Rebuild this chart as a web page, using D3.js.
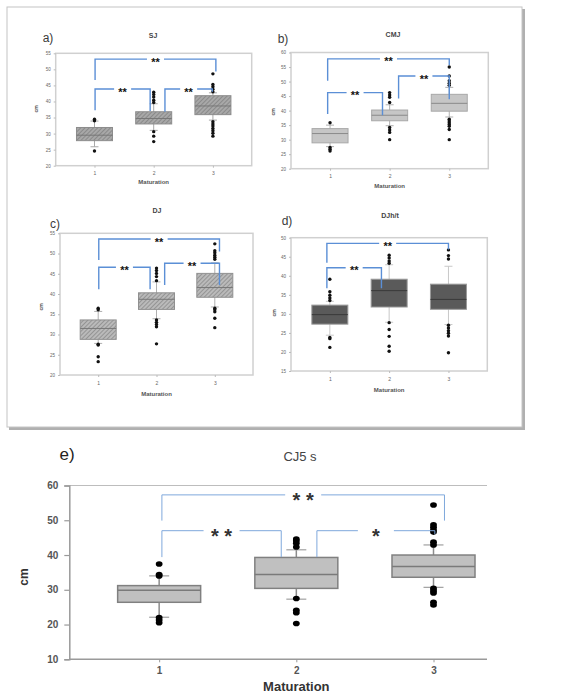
<!DOCTYPE html>
<html lang="en">
  <head>
    <meta charset="utf-8">
    <title>Maturation box plots</title>
    <style>
      body { margin: 0; background: #fff; }
      text { font-family: "Liberation Sans", Arial, sans-serif; }
    </style>
  </head>
  <body>
<script src="https://cdn.jsdelivr.net/npm/d3@7/dist/d3.min.js"></script>
<script>
// maturation groups
var groups = [1, 2, 3];

// each box: [lower whisker, q1, median, q3, upper whisker]
// a) SJ
var sjBox = [[25.9, 27.8, 29.5, 31.9, 33.9], [31.0, 33.0, 34.7, 36.8, 39.3], [34.2, 35.9, 38.6, 41.8, 42.7]];
var sjOut = [[34.5, 34.0, 24.6], [42.9, 42.2, 41.4, 40.4, 39.7, 30.6, 29.2, 27.5],
  [48.6, 45.3, 44.6, 43.8, 43.0, 33.7, 33.0, 32.4, 31.6, 30.9, 30.1, 29.2]];
// b) CMJ
var cmjBox = [[27.6, 28.9, 32.1, 33.8, 35.0], [34.8, 36.5, 38.4, 40.2, 42.0], [37.8, 39.8, 42.5, 45.6, 48.0]];
var cmjOut = [[35.8, 27.3, 26.7, 26.1], [46.2, 45.4, 44.6, 42.8, 34.2, 33.3, 32.5, 30.0],
  [55.0, 51.9, 50.3, 49.4, 48.7, 37.0, 36.4, 35.8, 35.2, 34.6, 33.5, 30.0]];
// c) DJ
var djBox = [[27.8, 28.8, 31.5, 33.6, 35.7], [33.9, 36.2, 38.7, 40.3, 43.0], [36.8, 39.2, 41.6, 45.1, 47.7]];
var djOut = [[36.5, 36.1, 27.6, 27.4, 24.5, 23.3], [46.4, 45.8, 45.1, 44.3, 43.3, 33.6, 33.0, 32.5, 31.9, 27.7],
  [52.4, 50.7, 50.2, 49.6, 49.1, 48.6, 36.5, 36.1, 35.6, 34.0, 31.7]];
// d) DJh/t
var djhtBox = [[24.4, 27.3, 29.8, 32.3, 33.3], [27.8, 31.8, 36.1, 39.1, 42.9], [27.2, 31.2, 33.8, 37.8, 42.5]];
var djhtOut = [[39.1, 35.8, 34.9, 34.2, 33.5, 23.8, 23.5, 21.2], [45.4, 44.7, 43.9, 43.3, 27.7, 25.9, 24.1, 21.5, 20.2],
  [46.8, 45.3, 44.4, 27.0, 26.3, 25.6, 24.9, 24.2, 19.8]];
// e) CJ5 s
var cjBox = [[22.1, 26.4, 29.9, 31.2, 34.0], [27.3, 30.4, 34.4, 39.3, 41.5], [30.7, 33.6, 36.7, 40.0, 42.9]];
var cjOut = [[37.4, 34.4, 34.0, 22.0, 21.3, 20.5], [44.6, 44.1, 43.4, 42.3, 27.5, 24.1, 23.4, 20.3],
  [54.4, 48.7, 48.0, 47.2, 46.6, 43.7, 42.9, 30.4, 29.7, 29.1, 26.4, 25.6]];

// significance brackets: [from group, to group, bar level, left leg end, right leg end, label]
var sjSig = [[1.01, 3.05, 53.2, 46.7, 49.3, "**"], [1.01, 1.94, 43.9, 37.3, 37.0, "**"], [2.19, 2.99, 43.9, 36.8, 43.0, "**"]];
var cmjSig = [[0.96, 3.0, 57.8, 50.3, 55.7, "**"], [0.96, 1.88, 46.2, 38.8, 38.4, "**"], [2.15, 3.0, 51.9, 44.2, 43.9, "**"]];
var djSig = [[1.01, 3.08, 53.6, 48.4, 50.5, "**"], [1.01, 1.89, 46.6, 41.2, 41.2, "**"], [2.14, 3.08, 47.6, 42.2, 42.2, "**"]];
var djhtSig = [[0.95, 3.0, 48.5, 43.4, 46.9, "**"], [0.95, 1.87, 42.1, 36.7, 36.7, "**"]];
var cjSig = [[1.02, 3.08, 57.3, 49.9, 49.9, "* *"], [1.02, 1.89, 47.0, 39.4, 39.4, "* *"], [2.15, 3.01, 47.0, 39.4, 46.0, "*"]];

var svg = d3.select("body").append("svg")
  .attr("width", 567)
  .attr("height", 700);

var defs = svg.append("defs");

// hatch fills for a) and c)
function hatch(id, base, line) {
  var p = defs.append("pattern")
    .attr("id", id)
    .attr("patternUnits", "userSpaceOnUse")
    .attr("width", 3).attr("height", 3)
    .attr("patternTransform", "rotate(45)");
  p.append("rect").attr("width", 3).attr("height", 3).attr("fill", base);
  p.append("line").attr("x1", 0.5).attr("y1", 0).attr("x2", 0.5).attr("y2", 3)
    .attr("stroke", line).attr("stroke-width", 1);
}
hatch("hatchA", "#a8a8a8", "#8a8a8a");
hatch("hatchC", "#bababa", "#949494");

defs.append("clipPath").attr("id", "cutTop")
  .append("rect").attr("x", 360).attr("y", 31).attr("width", 70).attr("height", 10);

// outer frame around a-d with a small shadow
svg.append("rect").attr("x", 9).attr("y", 9).attr("width", 516).attr("height", 421).attr("fill", "#b0b0b0");
svg.append("rect").attr("x", 7).attr("y", 7).attr("width", 515).attr("height", 420)
  .attr("fill", "#fff").attr("stroke", "#c4c4c4").attr("stroke-width", 1);

function smallPanel(o) {
  var x = d3.scaleLinear().domain([0.345, 3.655]).range([o.left, o.right]);
  var y = d3.scaleLinear().domain(o.yDom).range([o.bottom, o.top]);
  var g = svg.append("g");

  g.append("rect")
    .attr("x", o.left).attr("y", o.top)
    .attr("width", o.right - o.left).attr("height", o.bottom - o.top)
    .attr("fill", "#fff").attr("stroke", "#d0d0d0").attr("stroke-width", 1.5);

  // y axis
  var ya = g.append("g")
    .attr("transform", "translate(" + o.left + ",0)")
    .call(d3.axisLeft(y).tickValues(d3.range(o.yDom[0], o.yDom[1] + 1, 5)).tickSize(2).tickPadding(3));
  ya.select(".domain").remove();
  ya.selectAll("line").attr("stroke", "#bbb");
  ya.selectAll("text").attr("font-size", 4.5).attr("fill", "#666");

  // x axis
  var xa = g.append("g")
    .attr("transform", "translate(0," + o.bottom + ")")
    .call(d3.axisBottom(x).tickValues(groups).tickFormat(d3.format("d")).tickSize(2).tickPadding(4));
  xa.select(".domain").remove();
  xa.selectAll("line").attr("stroke", "#bbb");
  xa.selectAll("text").attr("font-size", 5).attr("fill", "#666");

  g.append("text").attr("x", x(2)).attr("y", o.xLabY)
    .attr("text-anchor", "middle").attr("font-size", 6).attr("font-weight", "bold").attr("fill", "#555")
    .text("Maturation");
  g.append("text").attr("transform", "translate(" + o.cmX + "," + o.cmY + ") rotate(-90)")
    .attr("text-anchor", "middle").attr("dy", "0.35em")
    .attr("font-size", 5).attr("font-weight", "bold").attr("fill", "#555")
    .text("cm");

  var t = g.append("text").attr("x", o.titleX).attr("y", o.titleY)
    .attr("text-anchor", "middle").attr("font-size", 7).attr("font-weight", "bold").attr("fill", "#444")
    .text(o.title);
  if (o.clip) t.attr("clip-path", "url(#cutTop)");

  g.append("text").attr("x", o.letterX).attr("y", o.letterY)
    .attr("text-anchor", "middle").attr("dy", "0.35em")
    .attr("font-size", 12).attr("fill", "#3a3a3a")
    .text(o.letter);

  var bw = 36, cap = 8;
  o.box.forEach(function (b, i) {
    var cx = x(groups[i]);
    g.append("line").attr("x1", cx).attr("x2", cx).attr("y1", y(b[0])).attr("y2", y(b[4]))
      .attr("stroke", o.whisker).attr("stroke-width", 1);
    [b[0], b[4]].forEach(function (v) {
      g.append("line").attr("x1", cx - cap / 2).attr("x2", cx + cap / 2).attr("y1", y(v)).attr("y2", y(v))
        .attr("stroke", o.whisker).attr("stroke-width", 1);
    });
    g.append("rect").attr("x", cx - bw / 2).attr("y", y(b[3]))
      .attr("width", bw).attr("height", y(b[1]) - y(b[3]))
      .attr("fill", o.fill).attr("stroke", o.stroke).attr("stroke-width", 1);
    g.append("line").attr("x1", cx - bw / 2).attr("x2", cx + bw / 2).attr("y1", y(b[2])).attr("y2", y(b[2]))
      .attr("stroke", o.median).attr("stroke-width", 1);
    g.selectAll(null).data(o.out[i]).enter().append("circle")
      .attr("cx", cx).attr("cy", function (d) { return y(d); })
      .attr("r", 1.7).attr("fill", "#111");
  });

  brackets(g, x, y, o.sig, 17, "#5b8fd6", 1.4, 11, "#111");
}

function brackets(g, x, y, sig, gap, col, sw, fs, starCol) {
  sig.forEach(function (s) {
    var x0 = x(s[0]), x1 = x(s[1]), yy = y(s[2]), mid = (x0 + x1) / 2;
    g.append("path")
      .attr("d", "M" + x0 + "," + y(s[3]) + "V" + yy + "H" + (mid - gap / 2))
      .attr("fill", "none").attr("stroke", col).attr("stroke-width", sw);
    g.append("path")
      .attr("d", "M" + (mid + gap / 2) + "," + yy + "H" + x1 + "V" + y(s[4]))
      .attr("fill", "none").attr("stroke", col).attr("stroke-width", sw);
    g.append("text").attr("x", mid).attr("y", yy + fs * 0.6)
      .attr("text-anchor", "middle").attr("font-family", "DejaVu Sans")
      .attr("font-weight", "bold").attr("font-size", fs).attr("fill", starCol)
      .text(s[5]);
  });
}

smallPanel({ box: sjBox, out: sjOut, sig: sjSig, left: 55.7, right: 251.7, top: 53.3, bottom: 165.7, yDom: [20, 55],
  fill: "url(#hatchA)", stroke: "#8c8c8c", median: "#777", whisker: "#a8a8a8",
  title: "SJ", titleX: 153, titleY: 38, letter: "a)", letterX: 48, letterY: 38,
  xLabY: 184, cmX: 36.5, cmY: 109 });
smallPanel({ box: cmjBox, out: cmjOut, sig: cmjSig, left: 291, right: 488.3, top: 52.5, bottom: 168.7, yDom: [20, 60],
  fill: "#c6c6c6", stroke: "#a8a8a8", median: "#8a8a8a", whisker: "#b0b0b0",
  title: "CMJ", titleX: 393, titleY: 37, clip: true, letter: "b)", letterX: 283, letterY: 39,
  xLabY: 188, cmX: 273, cmY: 112 });
smallPanel({ box: djBox, out: djOut, sig: djSig, left: 60, right: 253, top: 233.3, bottom: 375, yDom: [20, 55],
  fill: "url(#hatchC)", stroke: "#909090", median: "#777", whisker: "#b0b0b0",
  title: "DJ", titleX: 157, titleY: 213, letter: "c)", letterX: 55, letterY: 224,
  xLabY: 396, cmX: 41, cmY: 307 });
smallPanel({ box: djhtBox, out: djhtOut, sig: djhtSig, left: 291, right: 487.3, top: 237.7, bottom: 371, yDom: [15, 50],
  fill: "#5a5a5a", stroke: "#9a9a9a", median: "#3a3a3a", whisker: "#c8c8c8",
  title: "DJh/t", titleX: 390, titleY: 218, letter: "d)", letterX: 287, letterY: 221,
  xLabY: 392, cmX: 274, cmY: 313 });

// e) larger chart
var ex = d3.scaleLinear().domain([0.345, 3.39]).range([69.3, 487]);
var ey = d3.scaleLinear().domain([10, 60]).range([659.3, 485.5]);
var eg = svg.append("g");

eg.append("line").attr("x1", 69.3).attr("x2", 487).attr("y1", ey(60)).attr("y2", ey(60))
  .attr("stroke", "#bdbdbd").attr("stroke-width", 1);

var eya = eg.append("g")
  .attr("transform", "translate(69.3,0)")
  .call(d3.axisLeft(ey).tickValues(d3.range(10, 61, 10)).tickSize(5).tickPadding(6));
eya.select(".domain").attr("stroke", "#9a9a9a").attr("stroke-width", 1.5);
eya.selectAll("line").attr("stroke", "#9a9a9a").attr("stroke-width", 1.2);
eya.selectAll("text").attr("font-size", 10).attr("font-weight", "bold").attr("fill", "#555");

var exa = eg.append("g")
  .attr("transform", "translate(0,659.3)")
  .call(d3.axisBottom(ex).tickValues(groups).tickFormat(d3.format("d")).tickSize(3).tickPadding(5));
exa.select(".domain").attr("stroke", "#9a9a9a").attr("stroke-width", 1.5).attr("d", "M69.3,0H487");
exa.selectAll("line").attr("stroke", "#9a9a9a");
exa.selectAll("text").attr("font-size", 10).attr("font-weight", "bold").attr("fill", "#555");

eg.append("text").attr("x", ex(2)).attr("y", 691)
  .attr("text-anchor", "middle").attr("font-size", 13).attr("font-weight", "bold").attr("fill", "#333")
  .text("Maturation");
eg.append("text").attr("transform", "translate(24,577) rotate(-90)")
  .attr("text-anchor", "middle").attr("dy", "0.35em")
  .attr("font-size", 12).attr("font-weight", "bold").attr("fill", "#333")
  .text("cm");
eg.append("text").attr("x", 300).attr("y", 461)
  .attr("text-anchor", "middle").attr("font-size", 13).attr("fill", "#444")
  .text("CJ5 s");
eg.append("text").attr("x", 67).attr("y", 454)
  .attr("text-anchor", "middle").attr("dy", "0.35em")
  .attr("font-size", 17).attr("fill", "#222")
  .text("e)");

cjBox.forEach(function (b, i) {
  var cx = ex(groups[i]), bw = 83, cap = 20;
  eg.append("line").attr("x1", cx).attr("x2", cx).attr("y1", ey(b[0])).attr("y2", ey(b[4]))
    .attr("stroke", "#8c8c8c").attr("stroke-width", 1.5);
  [b[0], b[4]].forEach(function (v) {
    eg.append("line").attr("x1", cx - cap / 2).attr("x2", cx + cap / 2).attr("y1", ey(v)).attr("y2", ey(v))
      .attr("stroke", "#a0a0a0").attr("stroke-width", 1.2);
  });
  eg.append("rect").attr("x", cx - bw / 2).attr("y", ey(b[3]))
    .attr("width", bw).attr("height", ey(b[1]) - ey(b[3]))
    .attr("fill", "#c0c0c0").attr("stroke", "#808080").attr("stroke-width", 1.5);
  eg.append("line").attr("x1", cx - bw / 2).attr("x2", cx + bw / 2).attr("y1", ey(b[2])).attr("y2", ey(b[2]))
    .attr("stroke", "#7a7a7a").attr("stroke-width", 1.5);
  eg.selectAll(null).data(cjOut[i]).enter().append("ellipse")
    .attr("cx", cx).attr("cy", function (d) { return ey(d); })
    .attr("rx", 3.4).attr("ry", 2.8).attr("fill", "#000");
});

brackets(eg, ex, ey, cjSig, 36, "#7fa8dc", 1, 20, "#333");
</script>
  </body>
</html>
